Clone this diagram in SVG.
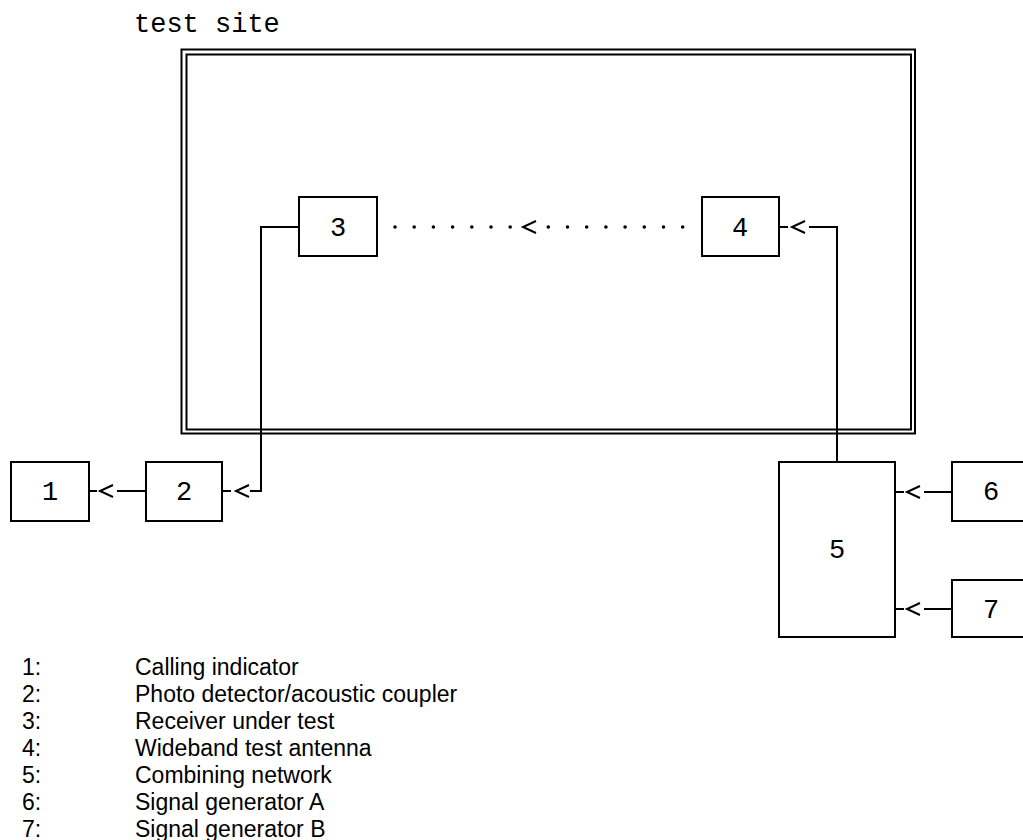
<svg xmlns="http://www.w3.org/2000/svg" width="1023" height="840" viewBox="0 0 1023 840">
<style>
  .box { fill: #ffffff; stroke: #000000; stroke-width: 2; }
  .frame { fill: none; stroke: #000000; stroke-width: 2; }
  .wire { fill: none; stroke: #000000; stroke-width: 2; }
  .chev { fill: none; stroke: #000000; stroke-width: 2; }
  .dots { fill: none; stroke: #000000; stroke-width: 3.6; stroke-linecap: round; stroke-dasharray: 0 19.2; }
  .num { font-family: "Liberation Mono", "Courier New", monospace; font-size: 27px; fill: #000000; text-anchor: middle; }
  .title { font-family: "Liberation Mono", "Courier New", monospace; font-size: 27px; fill: #000000; }
  .legend { font-family: "Liberation Sans", Arial, sans-serif; font-size: 23px; fill: #000000; }
</style>
<defs>
  <path id="lt" class="chev" d="M13,-6 L0,0 L13,6"/>
</defs>
<rect width="1023" height="840" fill="#ffffff"/>

<g id="test-site">
  <text class="title" x="134" y="32">test site</text>
  <rect class="frame" x="181.5" y="49.5" width="733.5" height="384"/>
  <rect class="frame" x="186.5" y="54.5" width="724.5" height="375"/>
</g>

<g id="connectors">
  <!-- 4 to 3 dotted path -->
  <line class="dots" x1="395" y1="227" x2="511" y2="227"/>
  <line class="dots" x1="548.3" y1="227" x2="684" y2="227"/>
  <use href="#lt" x="523" y="227"/>
  <!-- 5 to 4 -->
  <line class="wire" x1="779" y1="227" x2="788" y2="227"/>
  <use href="#lt" x="792" y="227"/>
  <polyline class="wire" points="809,227 837,227 837,462"/>
  <!-- 3 to 2 -->
  <polyline class="wire" points="299,227 261,227 261,491 250,491"/>
  <line class="wire" x1="222" y1="491" x2="231" y2="491"/>
  <use href="#lt" x="236" y="491"/>
  <!-- 2 to 1 -->
  <line class="wire" x1="117" y1="491" x2="146" y2="491"/>
  <line class="wire" x1="89" y1="491" x2="97" y2="491"/>
  <use href="#lt" x="100" y="491"/>
  <!-- 6 to 5 -->
  <line class="wire" x1="924" y1="492" x2="952" y2="492"/>
  <line class="wire" x1="895" y1="492" x2="904" y2="492"/>
  <use href="#lt" x="907" y="492"/>
  <!-- 7 to 5 -->
  <line class="wire" x1="924" y1="609" x2="952" y2="609"/>
  <line class="wire" x1="895" y1="609" x2="904" y2="609"/>
  <use href="#lt" x="907" y="609"/>
</g>

<g id="node-1">
  <rect class="box" x="11" y="462" width="78" height="59"/>
  <text class="num" x="50" y="500">1</text>
</g>
<g id="node-2">
  <rect class="box" x="146" y="462" width="76" height="59"/>
  <text class="num" x="184" y="500">2</text>
</g>
<g id="node-3">
  <rect class="box" x="299" y="197" width="78" height="59"/>
  <text class="num" x="338" y="236">3</text>
</g>
<g id="node-4">
  <rect class="box" x="702" y="197" width="77" height="59"/>
  <text class="num" x="740" y="236">4</text>
</g>
<g id="node-5">
  <rect class="box" x="779" y="462" width="116" height="175"/>
  <text class="num" x="837" y="558">5</text>
</g>
<g id="node-6">
  <rect class="box" x="952" y="462" width="78" height="59"/>
  <text class="num" x="991" y="500">6</text>
</g>
<g id="node-7">
  <rect class="box" x="952" y="580" width="78" height="57"/>
  <text class="num" x="991" y="618">7</text>
</g>

<g id="legend">
  <text class="legend" x="22" y="675">1:</text>
  <text class="legend" x="135" y="675">Calling indicator</text>
  <text class="legend" x="22" y="702">2:</text>
  <text class="legend" x="135" y="702">Photo detector/acoustic coupler</text>
  <text class="legend" x="22" y="729">3:</text>
  <text class="legend" x="135" y="729">Receiver under test</text>
  <text class="legend" x="22" y="756">4:</text>
  <text class="legend" x="135" y="756">Wideband test antenna</text>
  <text class="legend" x="22" y="783">5:</text>
  <text class="legend" x="135" y="783">Combining network</text>
  <text class="legend" x="22" y="810">6:</text>
  <text class="legend" x="135" y="810">Signal generator A</text>
  <text class="legend" x="22" y="837">7:</text>
  <text class="legend" x="135" y="837">Signal generator B</text>
</g>
</svg>
